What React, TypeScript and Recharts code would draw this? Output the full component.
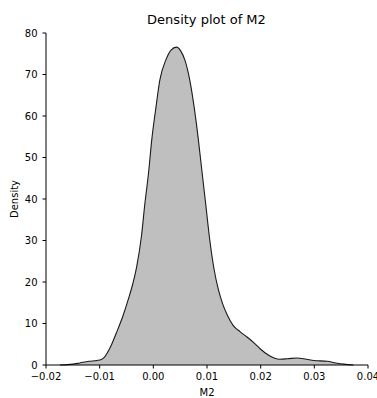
import { Area, AreaChart, XAxis, YAxis } from "recharts";

// KDE curve (x = M2 value, y = density)
const m2Values = [
  -0.0174, -0.015, -0.0137, -0.012, -0.0105, -0.0097, -0.0091, -0.0085, -0.0078,
  -0.0069, -0.0057, -0.0047, -0.0038, -0.0031, -0.0022, -0.0016, -0.0009, -0.0003,
  0.0005, 0.0012, 0.0023, 0.0033, 0.0043, 0.0051, 0.0059, 0.0068, 0.0076, 0.0084,
  0.0091, 0.0098, 0.0105, 0.0113, 0.0121, 0.0129, 0.0138, 0.0149, 0.0162, 0.0174,
  0.0187, 0.02, 0.0212, 0.0225, 0.0236, 0.025, 0.0268, 0.0285, 0.0299, 0.0324,
  0.034, 0.0355, 0.0373,
];
const densityValues = [
  0, 0.2, 0.5, 0.9, 1.1, 1.35, 1.9, 3.1, 4.9,
  7.7, 11.7, 15.7, 19.7, 23.7, 31.2, 38.6, 46.2, 54.2,
  62.2, 68.6, 73.4, 75.9, 76.6, 75.7, 73.4, 68.6, 62.2, 54.2,
  46.2, 38.3, 30.3, 23.2, 18.3, 14.8, 12.0, 9.5, 8.0, 6.8,
  5.4, 3.8, 2.6, 1.7, 1.4, 1.5, 1.7, 1.4, 1.1, 0.9,
  0.5, 0.2, 0,
];
const xTicks = [-0.02, -0.01, 0.0, 0.01, 0.02, 0.03, 0.04];
const yTicks = [0, 10, 20, 30, 40, 50, 60, 70, 80];

const FONT = "'DejaVu Sans', sans-serif";

const rows = m2Values.map((x, i) => ({ x, density: densityValues[i] }));

function fmtX(v: number): string {
  return v.toFixed(2).replace("-", "\u2212");
}

export default function App() {
  return (
    <div style={{ position: "absolute", left: 0, top: 0, width: 377, height: 398, background: "#fff" }}>
      <div
        style={{
          position: "absolute",
          left: 46,
          width: 321,
          top: 12,
          textAlign: "center",
          fontFamily: FONT,
          fontSize: 13,
          lineHeight: "15px",
          color: "#000",
        }}
      >
        Density plot of M2
      </div>
      <AreaChart
        width={377}
        height={398}
        data={rows}
        margin={{ top: 33, right: 9, bottom: 0, left: 0 }}
      >
        <XAxis
          dataKey="x"
          type="number"
          domain={[-0.02, 0.04]}
          ticks={xTicks}
          tickFormatter={fmtX}
          allowDataOverflow
          height={33}
          stroke="#000"
          tickSize={3.5}
          tickMargin={4}
          tick={{ fill: "#000", fontSize: 10, fontFamily: FONT }}
          interval={0}
          label={(props: any) => {
            const vb = props.viewBox || { x: 46, y: 365, width: 321 };
            return (
              <text
                x={vb.x + vb.width / 2}
                y={vb.y + 31}
                textAnchor="middle"
                fill="#000"
                fontSize={10}
                fontFamily={FONT}
              >
                M2
              </text>
            );
          }}
        />
        <YAxis
          type="number"
          domain={[0, 80]}
          ticks={yTicks}
          width={46}
          stroke="#000"
          tickSize={3.5}
          tickMargin={5}
          interval={0}
          tick={{ fill: "#000", fontSize: 10, fontFamily: FONT }}
          label={(props: any) => {
            const vb = props.viewBox || { x: 0, y: 33, height: 332 };
            const cy = vb.y + vb.height / 2;
            return (
              <text
                transform={`translate(18, ${cy}) rotate(-90)`}
                textAnchor="middle"
                fill="#000"
                fontSize={10}
                fontFamily={FONT}
              >
                Density
              </text>
            );
          }}
        />
        <Area
          type="monotone"
          dataKey="density"
          stroke="#1a1a1a"
          strokeWidth={1.1}
          fill="#bfbfbf"
          fillOpacity={1}
          dot={false}
          activeDot={false}
          isAnimationActive={false}
        />
      </AreaChart>
    </div>
  );
}
